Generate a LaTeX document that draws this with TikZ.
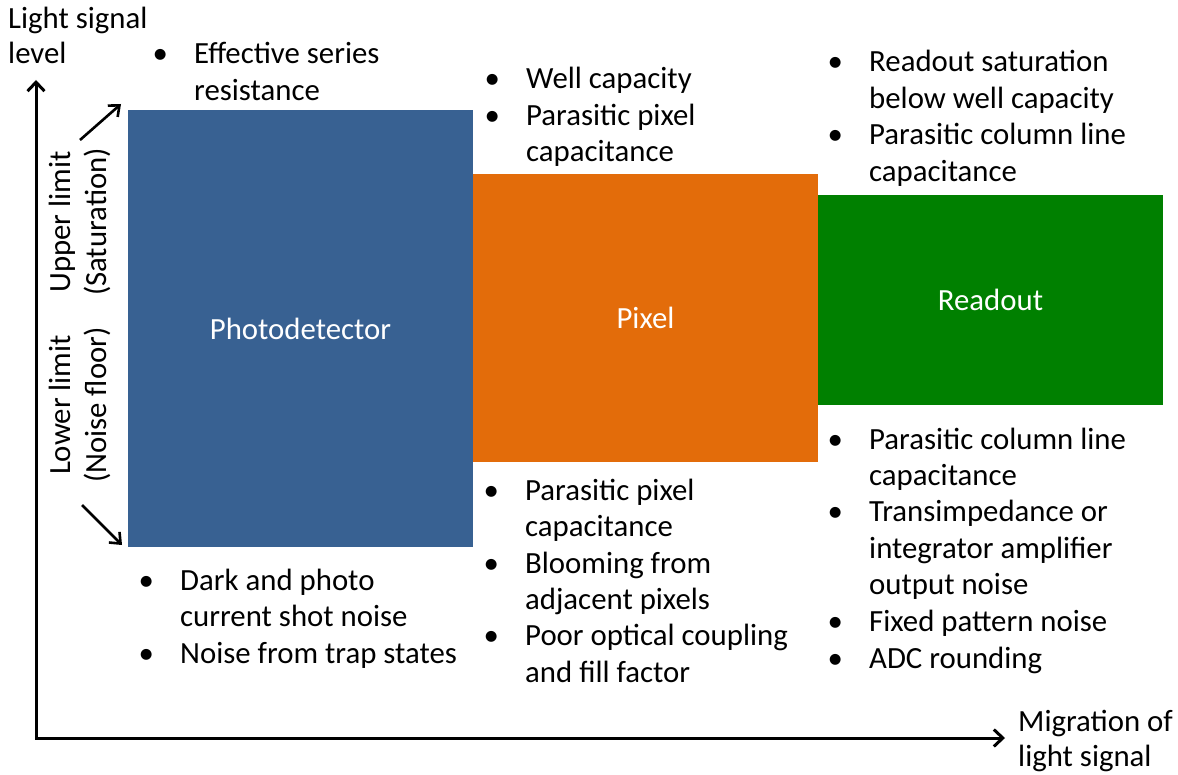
\documentclass[tikz,border=0pt]{standalone}
\usepackage{fontspec}
\setmainfont{Carlito}
\usetikzlibrary{arrows.meta}
\definecolor{detblue}{RGB}{56,97,146}
\definecolor{pixorange}{RGB}{227,108,10}
\definecolor{rdgreen}{RGB}{0,128,0}
% bullet hung 34pt to the left of the item text
\newcommand\bul{\llap{\makebox[0pt]{\textbullet}\hspace{34pt}}}
\newcommand\lines[1]{\begin{tabular}[t]{@{}l@{}}#1\end{tabular}}
\begin{document}
\begin{tikzpicture}[x=1pt,y=-1pt,
  every node/.style={inner sep=0pt, font=\fontsize{30.8}{36.5}\selectfont},
  stage/.style={rectangle, minimum width=345pt, text=white},
  notes/.style={anchor=base west},
  axis/.style={line width=3pt, line join=miter,
    {Straight Barb[length=9pt,width=17pt]}-{Straight Barb[length=9pt,width=17pt]}},
  pointer/.style={line width=2.6pt, -{Straight Barb[length=9pt,width=15pt]}},
]
\useasboundingbox (0,0) rectangle (1178,775);

% signal chain stages
\node[stage, fill=detblue,   minimum height=437pt] (det) at (300.5,328.5) {Photodetector};
\node[stage, fill=pixorange, minimum height=288pt] (pix) at (645.5,318)   {Pixel};
\node[stage, fill=rdgreen,   minimum height=210pt] (rd)  at (990.5,300)   {Readout};

% axes
\coordinate (ytip) at (36,80);
\coordinate (xtip) at (1005,738);
\draw[axis] (ytip) |- (xtip);
\node[notes] (ylab) at (8,29) {\begin{tabular}[t]{@{}l@{}}Light signal\\[-1.5pt]level\end{tabular}};
\node[notes] (xlab) at (1018,731) {\begin{tabular}[t]{@{}l@{}}Migration of\\[-1.5pt]light signal\end{tabular}};

% limit labels
\node[rotate=90] (upper) at (81,222) {\begin{tabular}{@{}c@{}}Upper limit\\(Saturation)\end{tabular}};
\node[rotate=90] (lower) at (81,405) {\begin{tabular}{@{}c@{}}Lower limit\\(Noise floor)\end{tabular}};
\coordinate (upA) at (80,140);
\coordinate (upB) at (121,104);
\coordinate (loA) at (82,505);
\coordinate (loB) at (122,545);
\draw[pointer] (upA) -- (upB);
\draw[pointer] (loA) -- (loB);

% upper-limit factors
\node[notes] (detup) at (194,64) {\lines{\bul Effective series\\resistance}};
\node[notes] (pixup) at (526,89) {\lines{\bul Well capacity\\\bul Parasitic pixel\\capacitance}};
\node[notes] (rdup) at (869,72) {\lines{\bul Readout saturation\\below well capacity\\\bul Parasitic column line\\capacitance}};

% lower-limit factors
\node[notes] (detlo) at (180,590) {\lines{\bul Dark and photo\\current shot noise\\\bul Noise from trap states}};
\node[notes] (pixlo) at (525,500) {\lines{\bul Parasitic pixel\\capacitance\\\bul Blooming from\\adjacent pixels\\\bul Poor optical coupling\\and fill factor}};
\node[notes] (rdlo) at (869,449) {\lines{\bul Parasitic column line\\capacitance\\\bul Transimpedance or\\integrator amplifier\\output noise\\\bul Fixed pattern noise\\\bul ADC rounding}};
\end{tikzpicture}
\end{document}
